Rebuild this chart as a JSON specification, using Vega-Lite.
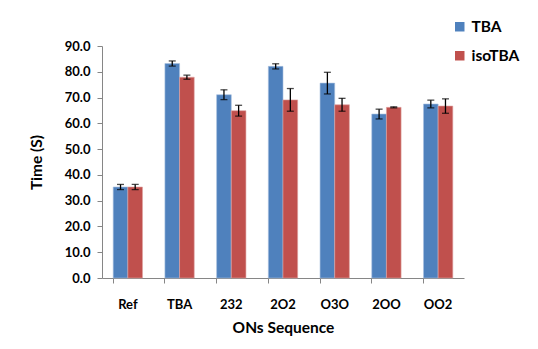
{
  "$schema": "https://vega.github.io/schema/vega-lite/v6.json",
  "autosize": "none",
  "width": 362,
  "height": 232,
  "padding": {"left": 102, "top": 46, "right": 74, "bottom": 71},
  "background": "white",
  "config": {
    "view": {"stroke": null},
    "font": "Lato",
    "axisY": {
      "titleFont": "Lato",
      "titleFontSize": 15.5,
      "titleFontWeight": "bold",
      "titleColor": "black",
      "titlePadding": 20,
      "grid": false,
      "labelOverlap": false,
      "labelFont": "Lato",
      "labelFontSize": 13,
      "labelFontWeight": "bold",
      "labelColor": "black",
      "labelPadding": 7,
      "domainColor": "#868686",
      "tickColor": "#868686",
      "tickSize": 5
    }
  },
  "data": {
    "values": [
      {"cat": "Ref", "series": "TBA", "value": 35.3, "lo": 34.3, "hi": 36.3},
      {"cat": "Ref", "series": "isoTBA", "value": 35.3, "lo": 34.3, "hi": 36.3},
      {"cat": "TBA", "series": "TBA", "value": 83.2, "lo": 82.2, "hi": 84.2},
      {"cat": "TBA", "series": "isoTBA", "value": 77.9, "lo": 77.1, "hi": 78.7},
      {"cat": "232", "series": "TBA", "value": 71.1, "lo": 69.2, "hi": 73.0},
      {"cat": "232", "series": "isoTBA", "value": 64.9, "lo": 62.8, "hi": 67.0},
      {"cat": "2O2", "series": "TBA", "value": 82.1, "lo": 81.1, "hi": 83.1},
      {"cat": "2O2", "series": "isoTBA", "value": 69.1, "lo": 64.7, "hi": 73.5},
      {"cat": "O3O", "series": "TBA", "value": 75.6, "lo": 71.4, "hi": 79.8},
      {"cat": "O3O", "series": "isoTBA", "value": 67.2, "lo": 64.7, "hi": 69.7},
      {"cat": "2OO", "series": "TBA", "value": 63.6, "lo": 61.7, "hi": 65.5},
      {"cat": "2OO", "series": "isoTBA", "value": 66.2, "lo": 66.0, "hi": 66.4},
      {"cat": "OO2", "series": "TBA", "value": 67.5, "lo": 66.0, "hi": 69.0},
      {"cat": "OO2", "series": "isoTBA", "value": 66.7, "lo": 63.9, "hi": 69.5}
    ]
  },
  "encoding": {
    "x": {
      "field": "cat",
      "type": "nominal",
      "sort": null,
      "scale": {"paddingInner": 0.433, "paddingOuter": 0.2165},
      "axis": {
        "title": "ONs Sequence",
        "titleFont": "Lato",
        "titleFontSize": 15.5,
        "titleFontWeight": "bold",
        "titleColor": "black",
        "titlePadding": 9,
        "labelAngle": 0,
        "labelFont": "Lato",
        "labelFontSize": 13,
        "labelFontWeight": "bold",
        "labelColor": "black",
        "labelPadding": 15,
        "bandPosition": 0,
        "domainColor": "#868686",
        "tickColor": "#868686",
        "tickSize": 5
      }
    },
    "xOffset": {"field": "series", "type": "nominal", "scale": {"paddingInner": 0}}
  },
  "layer": [
    {
      "mark": {"type": "bar", "strokeWidth": 1, "strokeOpacity": 0.6},
      "encoding": {
        "y": {
          "field": "value",
          "type": "quantitative",
          "scale": {"domain": [0, 90], "nice": false},
          "axis": {"title": "Time (S)", "values": [0, 10, 20, 30, 40, 50, 60, 70, 80, 90], "format": ".1f", "labelOverlap": false}
        },
        "color": {
          "field": "series",
          "type": "nominal",
          "scale": {"domain": ["TBA", "isoTBA"], "range": ["#4F81BD", "#C0504D"]},
          "legend": {
            "title": null,
            "orient": "none",
            "legendX": 350,
            "legendY": -27,
            "symbolType": "square",
            "symbolSize": 90,
            "symbolStrokeWidth": 0,
            "labelFont": "Lato",
            "labelFontSize": 15.5,
            "labelFontWeight": "bold",
            "labelColor": "black",
            "rowPadding": 12,
            "labelOffset": 4
          }
        },
        "stroke": {
          "field": "series",
          "type": "nominal",
          "scale": {"domain": ["TBA", "isoTBA"], "range": ["#a9c0e0", "#e0a3a2"]},
          "legend": null
        }
      }
    },
    {
      "mark": {"type": "rule", "color": "black", "strokeWidth": 1.3},
      "encoding": {
        "y": {"field": "lo", "type": "quantitative", "axis": {"title": "Time (S)", "values": [0, 10, 20, 30, 40, 50, 60, 70, 80, 90], "format": ".1f", "labelOverlap": false}},
        "y2": {"field": "hi"}
      }
    },
    {
      "mark": {"type": "tick", "color": "black", "size": 7, "thickness": 1.3},
      "encoding": {"y": {"field": "lo", "type": "quantitative", "axis": {"title": "Time (S)", "values": [0, 10, 20, 30, 40, 50, 60, 70, 80, 90], "format": ".1f", "labelOverlap": false}}}
    },
    {
      "mark": {"type": "tick", "color": "black", "size": 7, "thickness": 1.3},
      "encoding": {"y": {"field": "hi", "type": "quantitative", "axis": {"title": "Time (S)", "values": [0, 10, 20, 30, 40, 50, 60, 70, 80, 90], "format": ".1f", "labelOverlap": false}}}
    }
  ]
}
